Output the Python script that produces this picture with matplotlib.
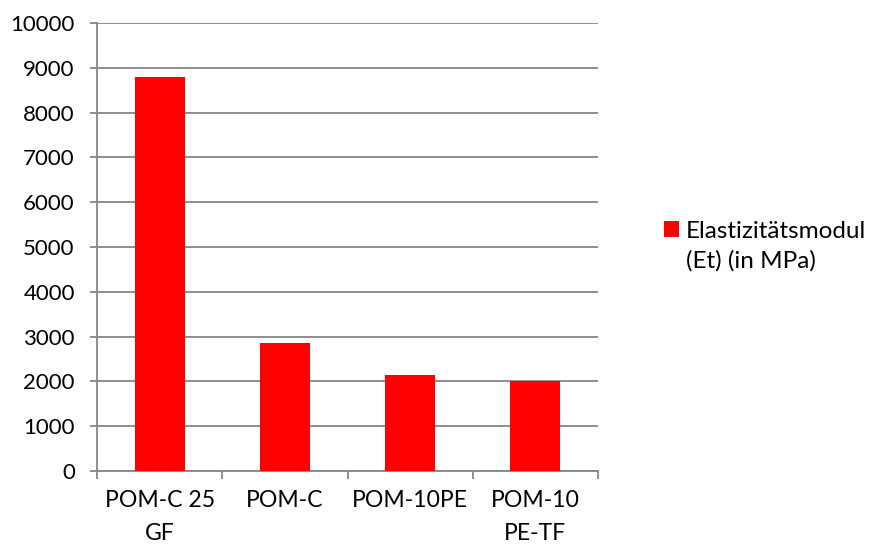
import matplotlib.pyplot as plt
import numpy as np

# === DATA ===
categories = ['POM-C 25\nGF', 'POM-C', 'POM-10PE', 'POM-10\nPE-TF']
values = [8800, 2850, 2150, 2000]
series_label = 'Elastizitätsmodul'
series_label_2 = '(Et) (in MPa)'
yticks = [0, 1000, 2000, 3000, 4000, 5000, 6000, 7000, 8000, 9000, 10000]

plt.rcParams['font.family'] = ['Lato', 'DejaVu Sans']
grid_color = '#868686'
fs_tick = 16
fs_cat = 16.6
fs_leg = 17.5

fig = plt.figure(figsize=(8.72, 5.47), dpi=100)
ax = fig.add_axes([97 / 872, 1 - 471 / 547, (598 - 97) / 872, (471 - 23) / 547])

x = np.arange(len(categories))
bars = ax.bar(x, values, width=0.4, color='#ff0000', zorder=3, label=series_label)

ax.set_xlim(-0.5, len(categories) - 0.5)
ax.set_ylim(0, 10000)
ax.set_yticks(yticks)
ax.set_yticklabels([str(v) for v in yticks], fontsize=fs_tick)
ax.yaxis.grid(True, color=grid_color, linewidth=1.3, zorder=0)
ax.tick_params(axis='y', length=5, width=1.3, color=grid_color, pad=11)

# category labels centred, tick marks at category boundaries
ax.set_xticks(x)
ax.set_xticklabels(categories, fontsize=fs_cat, linespacing=1.7, va='top')
ax.tick_params(axis='x', length=0, pad=14)
ax.set_xticks(np.arange(len(categories) + 1) - 0.5, minor=True)
ax.tick_params(axis='x', which='minor', length=6, width=1.3, color=grid_color)

for side in ['top', 'right']:
    ax.spines[side].set_visible(False)
for side in ['left', 'bottom']:
    ax.spines[side].set_color(grid_color)
    ax.spines[side].set_linewidth(1.3)

leg = ax.legend(handles=[bars], labels=[series_label], loc='center left',
                bbox_to_anchor=(664 / 872, 1 - 231 / 547), bbox_transform=fig.transFigure,
                frameon=False, fontsize=fs_leg, handlelength=0.62, handleheight=0.62,
                handletextpad=0.29, borderpad=0, borderaxespad=0)
fig.text(686 / 872, 1 - 268 / 547, series_label_2, fontsize=fs_leg, va='baseline', ha='left')

fig.savefig('out.png', dpi=100)
